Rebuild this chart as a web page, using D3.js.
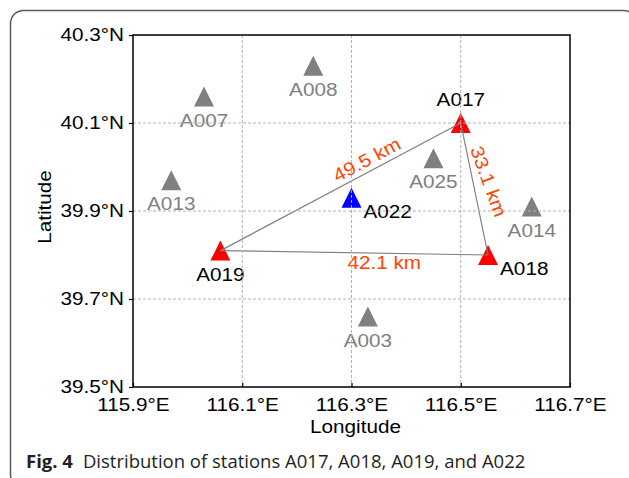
<!DOCTYPE html>
<html>
<head>
<meta charset="utf-8">
<script src="https://cdn.jsdelivr.net/npm/d3@7"></script>
<style>
  body { margin: 0; background: #fff; }
  svg text { font-family: "Liberation Sans", Arial, sans-serif; }
</style>
</head>
<body>
<div id="chart"></div>
<script>

const stations = ["A003", "A007", "A008", "A013", "A014", "A025", "A017", "A018", "A019", "A022"];
const lons = [116.33, 116.03, 116.23, 115.97, 116.63, 116.45, 116.50, 116.55, 116.06, 116.30];
const lats = [39.66, 40.16, 40.23, 39.97, 39.91, 40.02, 40.10, 39.80, 39.81, 39.93];
const groups = ["other", "other", "other", "other", "other", "other", "target", "target", "target", "reference"];
const labelPlaces = ["below", "below", "below", "below", "below", "below", "above", "right", "below", "right"];

const links = [["A019", "A017"], ["A017", "A018"], ["A019", "A018"]];
const distances = ["49.5 km", "33.1 km", "42.1 km"];
const distLon = [116.328, 116.551, 116.36];
const distLat = [40.017, 39.9675, 39.783];
const distAngle = [-28, 70, 0];

const lonTicks = [115.9, 116.1, 116.3, 116.5, 116.7];
const latTicks = [39.5, 39.7, 39.9, 40.1, 40.3];

const caption = ["Fig. 4", "Distribution of stations A017, A018, A019, and A022"];

drawMap();

function drawMap(){
    const width = 629, height = 478;
    const margin = {left: 133, top: 35, right: 59, bottom: 91};
    const w = width - margin.left - margin.right;
    const h = height - margin.top - margin.bottom;
    const stretch = 1.12;
    const fontSize = "18.5px";

    const colors = {other: "#808080", target: "#ff0000", reference: "#0000ff"};
    const textColors = {other: "#808080", target: "#000000", reference: "#000000"};

    const svg = d3.select("#chart")
      .append("svg")
        .attr("width", width)
        .attr("height", height);

    // rounded figure frame
    svg.append("rect")
        .attr("x", 10.5).attr("y", 10.5)
        .attr("width", 626).attr("height", 477)
        .attr("rx", 13)
        .attr("fill", "none")
        .attr("stroke", "#5a5a5a")
        .attr("stroke-width", 1.5);

    const g = svg.append("g")
        .attr("transform", "translate(" + margin.left + "," + margin.top + ")");

    const x = d3.scaleLinear().domain([115.9, 116.7]).range([0, w]);
    const y = d3.scaleLinear().domain([39.5, 40.3]).range([h, 0]);

    const byName = {};
    stations.forEach(function(s, i){ byName[s] = i; });

    // station triangles
    g.selectAll("path.station")
      .data(stations)
      .enter()
      .append("path")
        .attr("class", "station")
        .attr("d", "M0,-10L10,10L-10,10Z")
        .attr("transform", function(d, i){ return "translate(" + x(lons[i]) + "," + y(lats[i]) + ")"; })
        .attr("fill", function(d, i){ return colors[groups[i]]; });

    // baselines between target stations
    g.selectAll("line.link")
      .data(links)
      .enter()
      .append("line")
        .attr("class", "link")
        .attr("x1", function(d){ return x(lons[byName[d[0]]]); })
        .attr("y1", function(d){ return y(lats[byName[d[0]]]); })
        .attr("x2", function(d){ return x(lons[byName[d[1]]]); })
        .attr("y2", function(d){ return y(lats[byName[d[1]]]); })
        .attr("stroke", "#808080")
        .attr("stroke-width", 1.2);

    // station names
    g.selectAll("text.name")
      .data(stations)
      .enter()
      .append("text")
        .attr("class", "name")
        .attr("transform", function(d, i){
            const px = x(lons[i]), py = y(lats[i]);
            const place = labelPlaces[i];
            let dx = 0, dy = 30;
            if (place === "above") { dy = -17; }
            if (place === "right") { dx = 12; dy = 20; }
            return "translate(" + (px + dx) + "," + (py + dy) + ") scale(" + stretch + ",1)";
        })
        .attr("text-anchor", function(d, i){ return labelPlaces[i] === "right" ? "start" : "middle"; })
        .style("font-size", fontSize)
        .style("fill", function(d, i){ return textColors[groups[i]]; })
        .text(function(d){ return d; });

    // distance labels
    g.selectAll("text.dist")
      .data(distances)
      .enter()
      .append("text")
        .attr("class", "dist")
        .attr("transform", function(d, i){
            return "translate(" + x(distLon[i]) + "," + y(distLat[i]) + ") rotate(" + distAngle[i] + ") scale(" + stretch + ",1)";
        })
        .attr("text-anchor", "middle")
        .attr("dy", "0.35em")
        .style("font-size", fontSize)
        .style("fill", "#ff4500")
        .text(function(d){ return d; });

    // grid on top
    g.append("g")
      .selectAll("line")
      .data(lonTicks.slice(1, -1))
      .enter()
      .append("line")
        .attr("x1", function(d){ return x(d); }).attr("x2", function(d){ return x(d); })
        .attr("y1", 0).attr("y2", h)
        .attr("stroke", "#b0b0b0")
        .attr("stroke-dasharray", "3,2")
        .attr("stroke-width", 1);
    g.append("g")
      .selectAll("line")
      .data(latTicks.slice(1, -1))
      .enter()
      .append("line")
        .attr("y1", function(d){ return y(d); }).attr("y2", function(d){ return y(d); })
        .attr("x1", 0).attr("x2", w)
        .attr("stroke", "#b0b0b0")
        .attr("stroke-dasharray", "3,2")
        .attr("stroke-width", 1);

    // axes
    const xAxis = g.append("g")
        .attr("transform", "translate(0," + h + ")")
        .call(d3.axisBottom(x)
            .tickValues(lonTicks)
            .tickSize(-4)
            .tickPadding(11)
            .tickFormat(function(d){ return d.toFixed(1) + "°E"; }));
    const yAxis = g.append("g")
        .call(d3.axisLeft(y)
            .tickValues(latTicks)
            .tickSize(4)
            .tickPadding(4)
            .tickFormat(function(d){ return d.toFixed(1) + "°N"; }));

    [xAxis, yAxis].forEach(function(a){
        a.select(".domain").remove();
        a.selectAll(".tick line").attr("stroke", "#000").attr("stroke-width", 1.2);
        a.selectAll(".tick text")
          .attr("fill", "#000")
          .style("font-size", fontSize)
          .style("font-family", "'Liberation Sans', Arial, sans-serif")
          .attr("transform", "scale(" + stretch + ",1)");
    });

    g.append("rect")
        .attr("width", w).attr("height", h)
        .attr("fill", "none")
        .attr("stroke", "#000")
        .attr("stroke-width", 1.5);

    // axis titles
    g.append("text")
        .attr("transform", "translate(" + (w / 2 + 4) + "," + (h + 46) + ") scale(" + stretch + ",1)")
        .attr("text-anchor", "middle")
        .style("font-size", fontSize)
        .text("Longitude");

    g.append("text")
        .attr("transform", "translate(" + (-82) + "," + (h / 2 - 4) + ") rotate(-90) scale(" + stretch + ",1)")
        .attr("text-anchor", "middle")
        .style("font-size", fontSize)
        .text("Latitude");

    // caption
    const cap = svg.append("text")
        .attr("x", 26)
        .attr("y", 468)
        .style("font-family", "'Open Sans', 'Noto Sans', sans-serif")
        .style("font-size", "18.5px")
        .style("fill", "#231f20");
    cap.append("tspan")
        .style("font-weight", "bold")
        .text(caption[0]);
    cap.append("tspan")
        .attr("dx", 10)
        .text(caption[1]);
}

</script>
</body>
</html>
